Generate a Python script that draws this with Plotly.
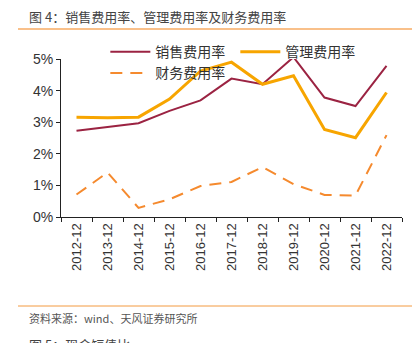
import plotly.graph_objects as go

categories = ["2012-12", "2013-12", "2014-12", "2015-12", "2016-12", "2017-12",
              "2018-12", "2019-12", "2020-12", "2021-12", "2022-12"]
sales_rate = [2.73, 2.86, 2.97, 3.36, 3.69, 4.38, 4.20, 5.06, 3.78, 3.51, 4.78]
admin_rate = [3.16, 3.14, 3.16, 3.73, 4.62, 4.90, 4.20, 4.47, 2.77, 2.51, 3.94]
fin_rate = [0.71, 1.41, 0.29, 0.56, 0.98, 1.11, 1.58, 1.04, 0.70, 0.68, 2.59]
y_ticks = [0, 1, 2, 3, 4, 5]
y_tick_text = ["0%", "1%", "2%", "3%", "4%", "5%"]

W, H = 419, 343
ML, MR, MT, MB = 61, 17, 59, 126

fig = go.Figure()
fig.add_trace(go.Scatter(x=categories, y=sales_rate, mode="lines", name="销售费用率",
                         line=dict(color="#9B2342", width=2)))
fig.add_trace(go.Scatter(x=categories, y=admin_rate, mode="lines", name="管理费用率",
                         line=dict(color="#F7A500", width=3)))
fig.add_trace(go.Scatter(x=categories, y=fin_rate, mode="lines", name="财务费用率",
                         line=dict(color="#F58A2E", width=2, dash="12px,8px")))

fig.update_layout(
    width=W, height=H,
    margin=dict(l=ML, r=MR, t=MT, b=MB),
    paper_bgcolor="white", plot_bgcolor="white",
    font=dict(family="Liberation Sans, Arial, Noto Sans CJK SC", size=14, color="#333333"),
    showlegend=True,
    legend=dict(orientation="h", x=0.13, y=1.145, xanchor="left", yanchor="top",
                entrywidth=75, entrywidthmode="pixels", bgcolor="rgba(0,0,0,0)",
                font=dict(family="Noto Sans CJK SC", size=14, color="#333333"),
                itemwidth=40, tracegroupgap=0),
    xaxis=dict(type="category", showline=True, linecolor="#222222", linewidth=1,
               ticks="outside", ticklen=4, tickcolor="#222222", tickson="boundaries",
               tickangle=-90, tickfont=dict(size=13, color="#333333"),
               showgrid=False, zeroline=False, range=[-0.5, 10.5]),
    yaxis=dict(range=[0, 5], tickvals=y_ticks, ticktext=y_tick_text,
               showline=True, linecolor="#222222", linewidth=1,
               ticks="outside", ticklen=4, tickcolor="#222222",
               tickfont=dict(size=14, color="#333333"),
               showgrid=False, zeroline=False),
)

def px_x(p):
    return (p - ML) / (W - ML - MR)

def px_y(p):
    return (H - MB - p) / (H - MT - MB)

fig.add_shape(type="line", xref="paper", yref="paper",
              x0=px_x(18), x1=px_x(412), y0=px_y(29), y1=px_y(29),
              line=dict(color="#F9C08A", width=2))
fig.add_shape(type="line", xref="paper", yref="paper",
              x0=px_x(18), x1=px_x(412), y0=px_y(306), y1=px_y(306),
              line=dict(color="#F39A40", width=1))

fig.add_annotation(text="图 4：销售费用率、管理费用率及财务费用率", xref="paper", yref="paper",
                   x=px_x(27), y=px_y(17), xanchor="left", yanchor="middle", showarrow=False,
                   font=dict(family="Noto Sans CJK SC", size=13, color="#444444"))
fig.add_annotation(text="资料来源：wind、天风证券研究所", xref="paper", yref="paper",
                   x=px_x(27), y=px_y(318), xanchor="left", yanchor="middle", showarrow=False,
                   font=dict(family="Noto Sans CJK SC", size=11, color="#555555"))
fig.add_annotation(text="图 5：现金短债比", xref="paper", yref="paper",
                   x=px_x(27), y=px_y(344), xanchor="left", yanchor="middle", showarrow=False,
                   font=dict(family="Noto Sans CJK SC", size=13, color="#444444"))

fig.write_html("out.html")
